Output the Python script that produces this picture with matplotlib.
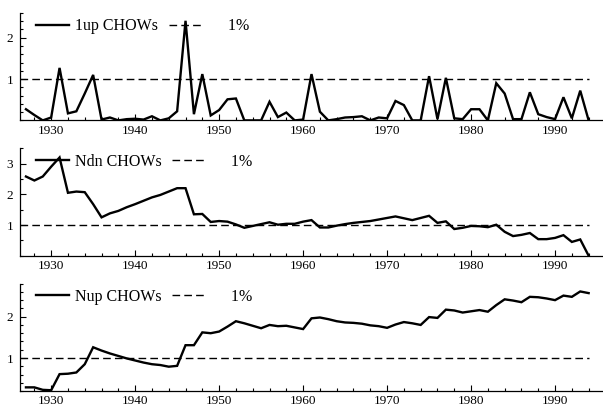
import numpy as np
import matplotlib.pyplot as plt
from matplotlib.ticker import MultipleLocator, FixedLocator

plt.rcParams['font.family'] = ['Liberation Serif', 'DejaVu Serif']

# 年份
years = list(range(1927, 1995))

# 1up CHOWs
up1 = [0.27, 0.13, 0.00, 0.07, 1.27, 0.17, 0.22, 0.65, 1.10, 0.02,
       0.07, 0.00, 0.03, 0.04, 0.02, 0.10, 0.00, 0.05, 0.22, 2.41,
       0.15, 1.12, 0.12, 0.25, 0.51, 0.53, 0.00, 0.00, 0.00, 0.45,
       0.08, 0.19, 0.00, 0.02, 1.12, 0.21, 0.00, 0.03, 0.07, 0.08,
       0.10, 0.00, 0.07, 0.05, 0.47, 0.37, 0.00, 0.00, 1.07, 0.03,
       1.03, 0.05, 0.03, 0.27, 0.27, 0.00, 0.90, 0.65, 0.03, 0.03,
       0.68, 0.15, 0.08, 0.03, 0.56, 0.05, 0.72, 0.00]

# Ndn CHOWs
ndn = [2.58, 2.45, 2.58, 2.90, 3.20, 2.05, 2.09, 2.07, 1.68, 1.25,
       1.38, 1.46, 1.58, 1.68, 1.79, 1.90, 1.98, 2.09, 2.20, 2.20,
       1.35, 1.36, 1.10, 1.13, 1.11, 1.02, 0.91, 0.97, 1.03, 1.09,
       1.01, 1.04, 1.04, 1.11, 1.16, 0.92, 0.92, 0.98, 1.03, 1.07,
       1.10, 1.13, 1.18, 1.23, 1.28, 1.22, 1.16, 1.23, 1.30, 1.07,
       1.12, 0.87, 0.91, 0.97, 0.96, 0.93, 1.01, 0.78, 0.64, 0.68,
       0.74, 0.54, 0.54, 0.58, 0.67, 0.45, 0.53, 0.00]

# Nup CHOWs
nup = [0.29, 0.29, 0.23, 0.22, 0.61, 0.62, 0.65, 0.85, 1.26, 1.18,
       1.11, 1.05, 0.99, 0.94, 0.89, 0.85, 0.83, 0.79, 0.81, 1.31,
       1.31, 1.62, 1.60, 1.64, 1.76, 1.89, 1.84, 1.78, 1.72, 1.80,
       1.77, 1.78, 1.74, 1.70, 1.96, 1.98, 1.94, 1.89, 1.86, 1.85,
       1.83, 1.79, 1.77, 1.73, 1.81, 1.87, 1.84, 1.80, 1.99, 1.97,
       2.17, 2.15, 2.10, 2.13, 2.16, 2.12, 2.28, 2.42, 2.39, 2.35,
       2.48, 2.47, 2.44, 2.40, 2.51, 2.48, 2.61, 2.57]

labels = ['1up CHOWs', 'Ndn CHOWs', 'Nup CHOWs']
series = [up1, ndn, nup]
ylims = [(0, 2.6), (0, 3.5), (0.2, 2.8)]
yticks = [[1, 2], [1, 2, 3], [1, 2]]
yminor = [0.2, 0.5, 0.2]
crit = 1.0

fig = plt.figure(figsize=(6.03, 4.04), dpi=100)
bottoms = [0.702, 0.367, 0.032]
h = 0.266
left = 20 / 603

for i in range(3):
    ax = fig.add_axes([left, bottoms[i], 1 - left, h])
    ax.plot(years, series[i], 'k-', lw=1.7, label=labels[i],
            solid_joinstyle='miter')
    ax.plot([1926.29, years[-1]], [crit, crit], color='k', lw=1.0,
            dashes=(5.5, 3), label='     1%')
    ax.set_xlim(1926.29, 1995.71)
    ax.set_ylim(*ylims[i])
    ax.spines['top'].set_visible(False)
    ax.spines['right'].set_visible(False)
    ax.spines['left'].set_linewidth(0.9)
    ax.spines['bottom'].set_linewidth(0.9)
    ax.xaxis.set_major_locator(FixedLocator([1930, 1940, 1950, 1960, 1970, 1980, 1990]))
    ax.xaxis.set_minor_locator(MultipleLocator(2))
    ax.yaxis.set_major_locator(FixedLocator(yticks[i]))
    ax.yaxis.set_minor_locator(MultipleLocator(yminor[i]))
    ax.tick_params(which='both', direction='in', labelsize=9.5, width=0.8)
    ax.tick_params(which='major', length=4)
    ax.tick_params(which='minor', length=2.5)
    ax.tick_params(axis='x', pad=3)
    ax.tick_params(axis='y', pad=5)
    ax.legend(loc='center left', bbox_to_anchor=(0.027, 0.875), ncol=2,
              frameon=False, fontsize=11.5, handlelength=2.1,
              handletextpad=0.33, columnspacing=0.7, borderpad=0,
              borderaxespad=0)

fig.savefig('out.png', dpi=100)
